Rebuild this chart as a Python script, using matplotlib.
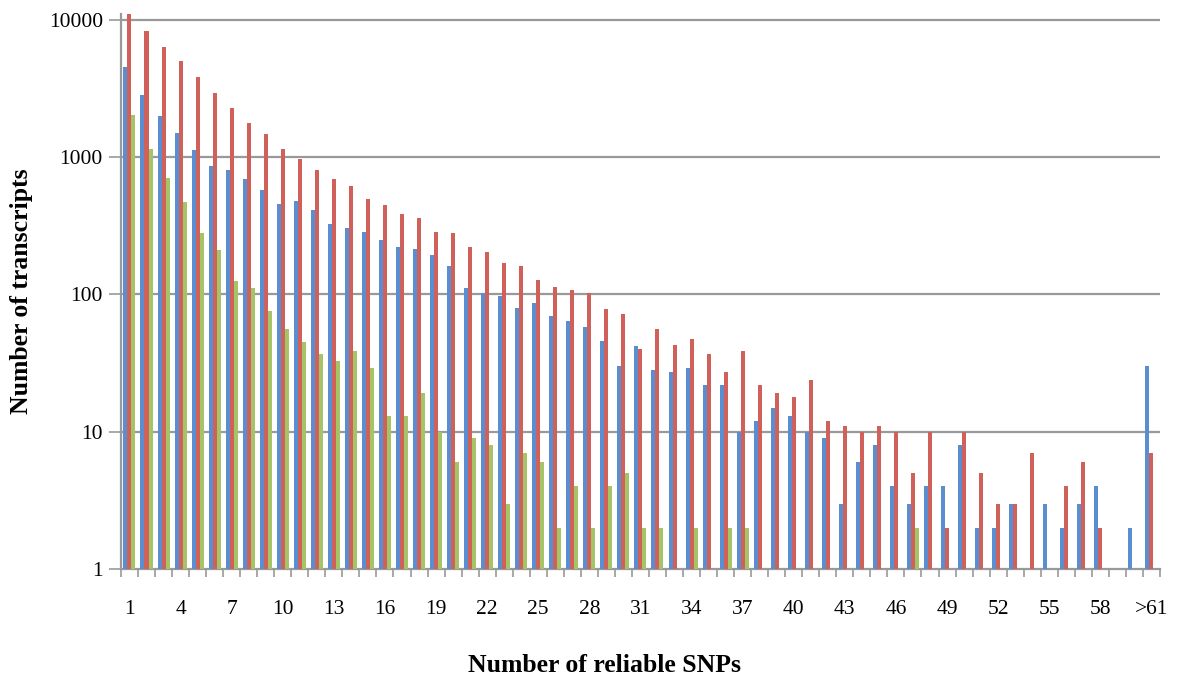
import numpy as np
import matplotlib
matplotlib.use('Agg')
import matplotlib.pyplot as plt

nan = np.nan

# categories: 1..60 and ">61"
categories = [str(k) for k in range(1, 61)] + ['>61']

blue_vals = [4500, 2830, 1980, 1500, 1120, 857, 807, 694, 577, 457,
             477, 410, 327, 305, 287, 251, 221, 214, 195, 162,
             111, 103, 97, 79, 86, 70, 64, 58, 46, 30,
             42, 28, 27, 29, 22, 22, 10, 12, 15, 13,
             10, 9, 3, 6, 8, 4, 3, 4, 4, 8,
             2, 2, 3, nan, 3, 2, 3, 4, nan, 2, 30]
red_vals = [11000, 8300, 6330, 5000, 3830, 2910, 2265, 1760, 1480, 1150,
            975, 800, 690, 614, 493, 447, 386, 359, 286, 279,
            223, 204, 169, 161, 128, 114, 108, 103, 78, 72,
            40, 56, 43, 47, 37, 27, 39, 22, 19, 18,
            24, 12, 11, 10, 11, 10, 5, 10, 2, 10,
            5, 3, 3, 7, nan, 4, 6, 2, nan, nan, 7]
green_vals = [2040, 1150, 705, 472, 281, 211, 126, 111, 76, 56,
              45, 37, 33, 39, 29, 13, 13, 19, 10, 6,
              9, 8, 3, 7, 6, 2, 4, 2, 4, 5,
              2, 2, nan, 2, nan, 2, 2, nan, nan, nan,
              nan, nan, nan, nan, nan, nan, 2, nan, nan, nan,
              nan, nan, nan, nan, nan, nan, nan, nan, nan, nan, nan]

ytick_vals = [1, 10, 100, 1000, 10000]

plt.rcParams['font.family'] = ['Liberation Serif', 'DejaVu Serif']

fig = plt.figure(figsize=(11.8, 6.84), dpi=100)
ax = fig.add_axes([0.1025, 0.168, 0.8805, 0.8115])

x = np.arange(len(categories))
w = 0.235
ax.bar(x - w, blue_vals, w, color='#5B8ED0', zorder=3)
ax.bar(x, red_vals, w, color='#D0605A', zorder=3)
ax.bar(x + w, green_vals, w, color='#A5C466', zorder=3)

ax.set_yscale('log')
ax.set_ylim(1, 11000)
ax.set_xlim(-0.5, len(categories) - 0.5)

ax.set_yticks(ytick_vals)
ax.set_yticklabels([str(v) for v in ytick_vals])
ax.yaxis.set_minor_locator(matplotlib.ticker.NullLocator())
for v in ytick_vals[1:]:
    ax.axhline(v, color='#999999', lw=1.6, zorder=1)

# x ticks at category boundaries, labels every third category
ax.set_xticks(np.arange(-0.5, len(categories), 1.0))
ax.set_xticklabels([])
ax.set_xticks(x[::3], minor=True)
ax.set_xticklabels(categories[::3], minor=True)
ax.tick_params(axis='x', which='major', length=6, width=1.2, color='#999999')
ax.tick_params(axis='x', which='minor', length=0, pad=22, labelsize=15.5)
ax.tick_params(axis='y', length=9, width=1.2, color='#999999', labelsize=15.5, pad=4)

for s in ['top', 'right']:
    ax.spines[s].set_visible(False)
for s in ['left', 'bottom']:
    ax.spines[s].set_color('#999999')
    ax.spines[s].set_linewidth(1.6)

fig.text(604 / 1180, 1 - 665 / 684, 'Number of reliable SNPs', fontsize=18.5,
         fontweight='bold', ha='center', va='center')
fig.text(22 / 1180, 1 - 291 / 684, 'Number of transcripts', fontsize=18.5,
         fontweight='bold', ha='center', va='center', rotation=90)

plt.savefig('out.png', dpi=100)
